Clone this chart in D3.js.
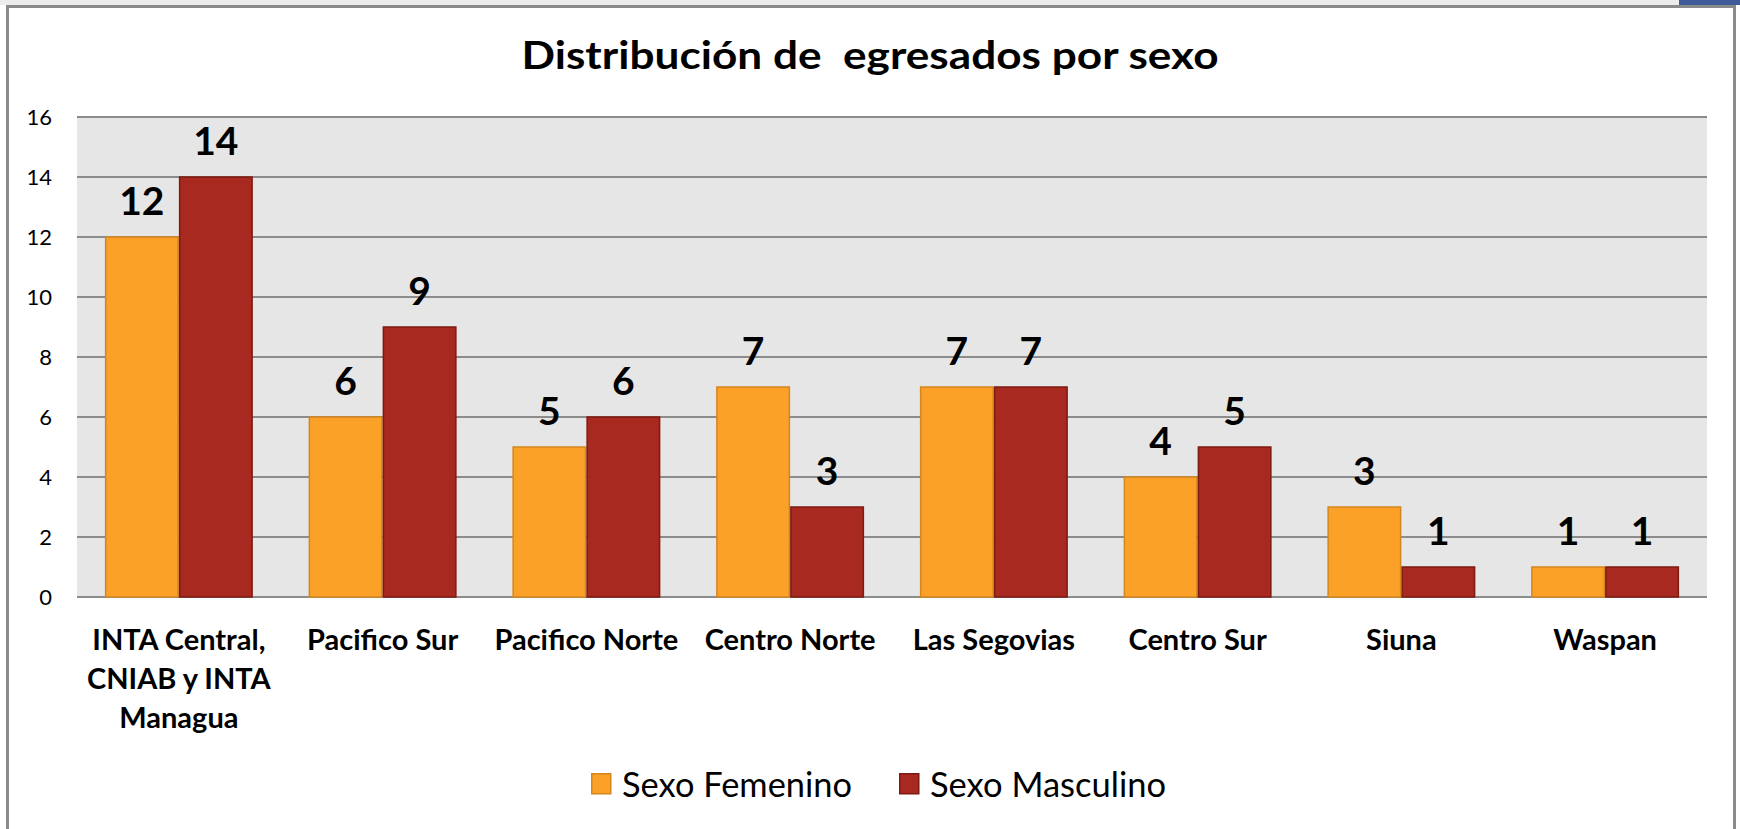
<!DOCTYPE html>
<html>
<head>
<meta charset="utf-8">
<script src="https://cdn.jsdelivr.net/npm/d3@7"></script>
<style>
  body { margin: 0; background: #fff; }
  text { font-family: Lato, "Open Sans", sans-serif; }
</style>
</head>
<body>
<figure id="bar" style="margin:0"></figure>
<script>
// chart data
const categories = [
  ["INTA Central,", "CNIAB y INTA", "Managua"],
  ["Pacifico Sur"],
  ["Pacifico Norte"],
  ["Centro Norte"],
  ["Las Segovias"],
  ["Centro Sur"],
  ["Siuna"],
  ["Waspan"]
];
const femenino = [12, 6, 5, 7, 7, 4, 3, 1];
const masculino = [14, 9, 6, 3, 7, 5, 1, 1];
const seriesNames = ["Sexo Femenino", "Sexo Masculino"];
const yTicks = [0, 2, 4, 6, 8, 10, 12, 14, 16];
const title = "Distribución de  egresados por sexo";

const width = 1740, height = 829;
const plot = { left: 77, right: 1707, top: 117, bottom: 597 };
const fills = ["#FBA128", "#A8291F"];
const strokes = ["#D4861C", "#7E1A12"];

const svg = d3.select("figure#bar")
  .append("svg")
  .attr("width", width)
  .attr("height", height);

// outer frame, like the pasted excel object
svg.append("rect").attr("x", 0).attr("y", 0).attr("width", 1679).attr("height", 5).attr("fill", "#ececec");
svg.append("rect").attr("x", 1679).attr("y", 0).attr("width", 61).attr("height", 5).attr("fill", "#3F5B9A");
svg.append("rect")
  .attr("x", 7.5).attr("y", 6.5)
  .attr("width", 1727).attr("height", 850)
  .attr("fill", "#fff")
  .attr("stroke", "#8a8a8a")
  .attr("stroke-width", 3);

// title
svg.append("text")
  .attr("x", 870).attr("y", 69)
  .attr("text-anchor", "middle")
  .style("white-space", "pre")
  .style("font-weight", "bold")
  .style("font-size", "39px")
  .attr("textLength", 697)
  .attr("lengthAdjust", "spacingAndGlyphs")
  .text(title);

// scales
const x = d3.scaleBand()
  .domain(d3.range(categories.length))
  .range([plot.left, plot.right])
  .padding(0);

const xInner = d3.scaleBand()
  .domain([0, 1])
  .range([0, x.bandwidth()])
  .paddingInner(0)
  .paddingOuter(0.377);

const y = d3.scaleLinear()
  .domain([0, 16])
  .range([plot.bottom, plot.top]);

// plot background
svg.append("rect")
  .attr("x", plot.left).attr("y", plot.top)
  .attr("width", plot.right - plot.left)
  .attr("height", plot.bottom - plot.top)
  .attr("fill", "#E6E6E6");

// gridlines
svg.append("g")
  .selectAll("line")
  .data(yTicks)
  .enter()
  .append("line")
  .attr("x1", plot.left).attr("x2", plot.right)
  .attr("y1", d => y(d)).attr("y2", d => y(d))
  .attr("stroke", "#8C8C8C")
  .attr("stroke-width", 2);

// y axis labels
const yAxis = svg.append("g")
  .attr("transform", "translate(" + plot.left + ",0)")
  .call(d3.axisLeft(y).tickValues(yTicks).tickSize(0).tickPadding(25));
yAxis.select(".domain").remove();
yAxis.selectAll("text")
  .style("font-family", "Lato, sans-serif")
  .style("font-size", "22px")
  .attr("fill", "#000");

// bars
const rows = categories.map((c, i) => ({ i: i, values: [femenino[i], masculino[i]] }));
const groups = svg.append("g")
  .selectAll("g")
  .data(rows)
  .enter()
  .append("g")
  .attr("transform", d => "translate(" + x(d.i) + ",0)");

groups.selectAll("rect")
  .data(d => d.values.map((v, s) => ({ s: s, v: v })))
  .enter()
  .append("rect")
  .attr("x", d => xInner(d.s) + 0.75)
  .attr("y", d => y(d.v))
  .attr("width", xInner.bandwidth() - 1.5)
  .attr("height", d => y(0) - y(d.v))
  .attr("fill", d => fills[d.s])
  .attr("stroke", d => strokes[d.s])
  .attr("stroke-width", 1.5);

// value labels
groups.selectAll("text")
  .data(d => d.values.map((v, s) => ({ s: s, v: v })))
  .enter()
  .append("text")
  .attr("x", d => xInner(d.s) + xInner.bandwidth() / 2)
  .attr("y", d => y(d.v) - 22)
  .attr("text-anchor", "middle")
  .style("font-weight", "bold")
  .style("font-size", "39px")
  .text(d => d.v);

// category labels
const xLabels = svg.append("g")
  .selectAll("text")
  .data(categories)
  .enter()
  .append("text")
  .attr("text-anchor", "middle")
  .style("font-weight", "bold")
  .style("font-size", "29px");
xLabels.each(function (lines, i) {
  const t = d3.select(this);
  lines.forEach((l, k) => {
    t.append("tspan")
      .attr("x", x(i) + x.bandwidth() / 2)
      .attr("y", 650 + k * 39)
      .text(l);
  });
});

// legend
const legendX = [591, 899];
const legendW = [230, 236];
const legend = svg.append("g")
  .selectAll("g")
  .data(seriesNames)
  .enter()
  .append("g")
  .attr("transform", (d, i) => "translate(" + legendX[i] + ",773)");
legend.append("rect")
  .attr("x", 0.75).attr("y", 0.75)
  .attr("width", 19).attr("height", 20)
  .attr("fill", (d, i) => fills[i])
  .attr("stroke", (d, i) => strokes[i])
  .attr("stroke-width", 1.5);
legend.append("text")
  .attr("x", 31).attr("y", 24)
  .style("font-size", "34px")
  .attr("textLength", (d, i) => legendW[i])
  .attr("lengthAdjust", "spacingAndGlyphs")
  .text(d => d);
</script>
</body>
</html>
